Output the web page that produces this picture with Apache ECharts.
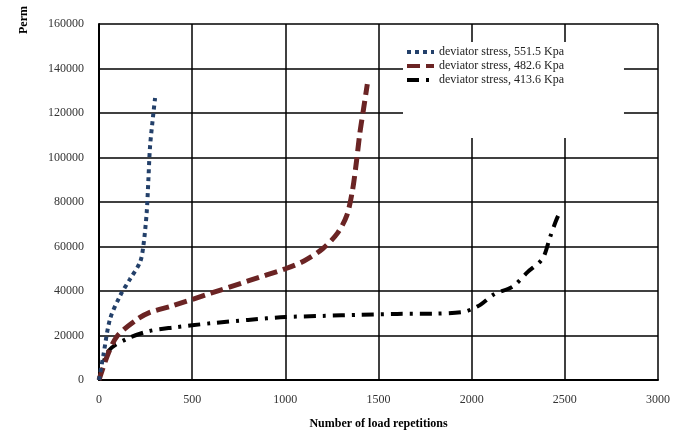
<!DOCTYPE html>
<html>
<head>
<meta charset="utf-8">
<script src="https://cdn.jsdelivr.net/npm/echarts@6/dist/echarts.min.js"></script>
<style>
  html, body { margin: 0; padding: 0; background: #fff; }
  #chart { width: 688px; height: 435px; }
</style>
</head>
<body>
<div id="chart"></div>
<script>
// Axis ticks
const xTicks = [0, 500, 1000, 1500, 2000, 2500, 3000];
const yTicks = [0, 20000, 40000, 60000, 80000, 100000, 120000, 140000, 160000];

// Series names
const seriesNames = [
  'deviator stress, 551.5 Kpa',
  'deviator stress, 482.6 Kpa',
  'deviator stress, 413.6 Kpa'
];

// Permanent deformation vs. load repetitions, one list per deviator stress
const stress551 = [
  [0, 0], [23, 10900], [59, 27300], [113, 37800], [166, 45300], [220, 52900],
  [238, 60200], [256, 75300], [265, 90000], [274, 105000], [292, 120000], [301, 126700]
];
const stress482 = [
  [0, 0], [50, 12000], [100, 20000], [200, 27000], [270, 30300], [400, 33500],
  [600, 39000], [800, 44500], [1000, 50000], [1100, 53500], [1200, 59000],
  [1280, 66000], [1330, 74000], [1360, 85000], [1380, 97000], [1400, 111000],
  [1420, 122000], [1440, 133000]
];
const stress413 = [
  [0, 0], [50, 13000], [150, 18500], [270, 22000], [400, 23600], [600, 25500],
  [800, 27000], [1000, 28300], [1200, 28800], [1400, 29300], [1600, 29700],
  [1800, 29800], [1950, 30500], [2000, 31800], [2050, 34000], [2120, 38500],
  [2220, 42000], [2300, 48500], [2380, 54500], [2420, 64000], [2450, 71000],
  [2470, 75000]
];

const serif = '"Liberation Serif", "DejaVu Serif", serif';
const plain = v => String(v);
const chart = echarts.init(document.getElementById('chart'), null, { renderer: 'canvas' });

chart.setOption({
  backgroundColor: '#ffffff',
  animation: false,
  grid: { left: 99, right: 30, top: 24, bottom: 54, containLabel: false },
  xAxis: {
    type: 'value',
    min: xTicks[0],
    max: xTicks[xTicks.length - 1],
    interval: xTicks[1] - xTicks[0],
    name: 'Number of load repetitions',
    nameLocation: 'middle',
    nameGap: 38,
    nameTextStyle: { fontFamily: serif, fontSize: 12, fontWeight: 'bold', color: '#000' },
    axisLine: { show: true, lineStyle: { color: '#000', width: 2 } },
    axisTick: { show: false },
    axisLabel: { margin: 14, fontFamily: serif, fontSize: 12, color: '#333', formatter: plain },
    splitLine: { show: true, lineStyle: { color: '#000', width: 1.5 } }
  },
  yAxis: {
    type: 'value',
    min: yTicks[0],
    max: yTicks[yTicks.length - 1],
    interval: yTicks[1] - yTicks[0],
    axisLine: { show: true, lineStyle: { color: '#000', width: 2 } },
    axisTick: { show: false },
    axisLabel: { margin: 15, fontFamily: serif, fontSize: 12, color: '#333', formatter: plain },
    splitLine: { show: true, lineStyle: { color: '#000', width: 1.5 } }
  },
  legend: {
    orient: 'vertical',
    left: 403,
    top: 42,
    padding: [4, 60, 52, 2],
    itemGap: 2,
    itemWidth: 27,
    itemHeight: 12,
    backgroundColor: '#ffffff',
    itemStyle: { opacity: 0 },
    lineStyle: { width: 4 },
    textStyle: { fontFamily: serif, fontSize: 12, color: '#222' },
    data: seriesNames
  },
  graphic: [
    {
      type: 'text',
      x: 24,
      y: 34,
      rotation: Math.PI / 2,
      style: {
        text: 'Perm',
        font: 'bold 12px ' + serif,
        fill: '#000',
        textAlign: 'left',
        textVerticalAlign: 'middle'
      }
    }
  ],
  series: [
    {
      name: seriesNames[0],
      type: 'line',
      data: stress551,
      smooth: 0.3,
      symbol: 'none',
      color: '#23406a',
      lineStyle: { color: '#23406a', width: 4, type: [4, 4] },
      z: 5
    },
    {
      name: seriesNames[1],
      type: 'line',
      data: stress482,
      smooth: 0.3,
      symbol: 'none',
      color: '#6b2424',
      lineStyle: { color: '#6b2424', width: 5, type: [13, 6] },
      z: 4
    },
    {
      name: seriesNames[2],
      type: 'line',
      data: stress413,
      smooth: 0.3,
      symbol: 'none',
      color: '#000000',
      lineStyle: { color: '#000000', width: 4, type: [12, 7, 3, 7] },
      z: 3
    }
  ]
});
</script>
</body>
</html>
